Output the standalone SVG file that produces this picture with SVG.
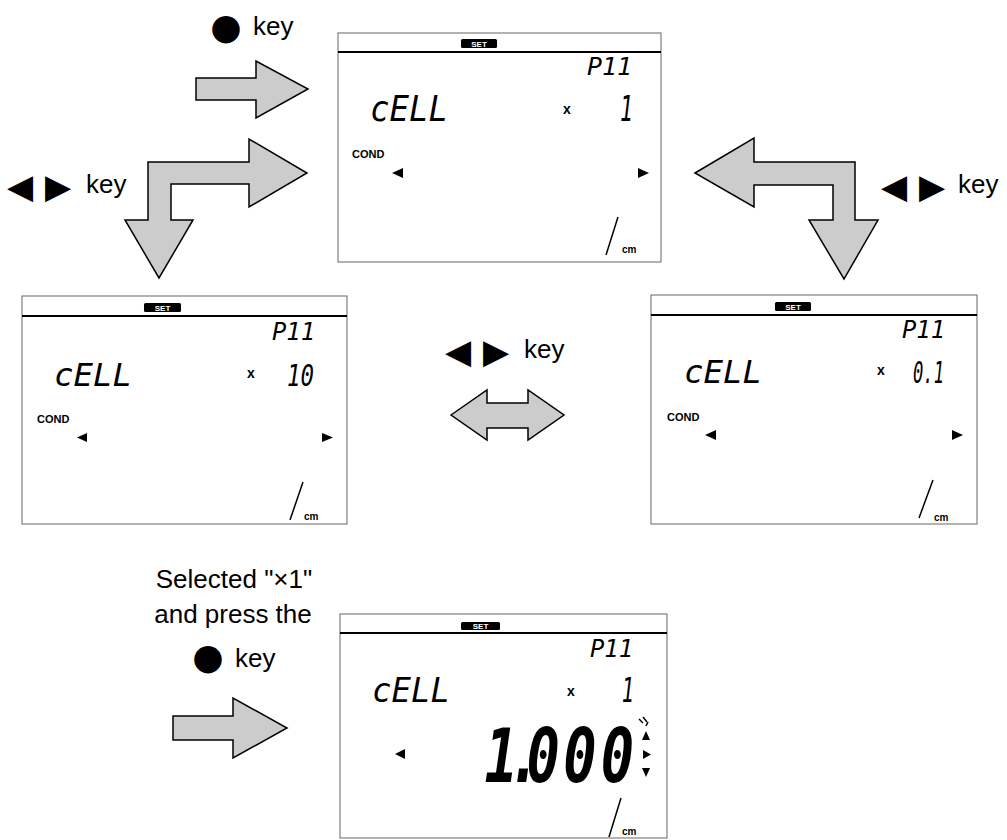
<svg xmlns="http://www.w3.org/2000/svg" width="1007" height="840" viewBox="0 0 1007 840">
<style>
.panel{fill:#fff;stroke:#666;stroke-width:1}
.hl{stroke:#000;stroke-width:2}
.setbox{fill:#000}
.settxt{fill:#fff;font-family:"Liberation Sans",Arial,sans-serif;font-weight:bold;font-size:8px;text-anchor:middle}
.seg{font-family:"DejaVu Sans Mono",monospace;font-style:oblique;fill:#000}
.big{font-family:"DejaVu Sans Mono",monospace;font-style:oblique;font-weight:bold;fill:#000}
.small{font-family:"Liberation Sans",Arial,sans-serif;font-weight:bold;fill:#000}
.tri{fill:#000}
.sl{stroke:#000;stroke-width:1.5}
.arrow{fill:#cccccc;stroke:#000;stroke-width:1.5;stroke-linejoin:miter}
.lbl{font-family:"Liberation Sans",Arial,sans-serif;font-size:26px;fill:#000}
.sym{font-family:"DejaVu Sans",sans-serif;fill:#000}
</style>
<rect width="1007" height="840" fill="#fff"/>

<g id="panel-top">
<rect class="panel" x="338" y="33" width="323" height="229"/>
<line class="hl" x1="338" y1="52" x2="661" y2="52"/>
<rect class="setbox" x="461" y="39" width="36" height="9" rx="1.5"/>
<text class="settxt" x="479" y="46.5">SET</text>
<text class="seg" x="587" y="75" font-size="25" textLength="45" lengthAdjust="spacingAndGlyphs">P11</text>
<text class="seg" x="370" y="121" font-size="36" textLength="78" lengthAdjust="spacingAndGlyphs">cELL</text>
<text class="small" x="563" y="114" font-size="14">x</text>
<text class="seg" transform="translate(633,121) scale(0.6,1)" x="0" y="0" font-size="36" text-anchor="end">1</text>
<text class="small" x="352" y="158" font-size="11">COND</text>
<polygon class="tri" points="392,173 403,168 403,178"/>
<polygon class="tri" points="649,173 638,168 638,178"/>
<line class="sl" x1="618" y1="217" x2="606" y2="255"/>
<text class="small" x="622" y="253" font-size="10">cm</text>
</g>

<g id="panel-left">
<rect class="panel" x="22" y="296" width="325" height="228"/>
<line class="hl" x1="22" y1="316" x2="347" y2="316"/>
<rect class="setbox" x="144" y="303" width="37" height="9" rx="1.5"/>
<text class="settxt" x="162.5" y="310.5">SET</text>
<text class="seg" x="272" y="340" font-size="25" textLength="43" lengthAdjust="spacingAndGlyphs">P11</text>
<text class="seg" x="54" y="386" font-size="32" textLength="78" lengthAdjust="spacingAndGlyphs">cELL</text>
<text class="small" x="247" y="378" font-size="14">x</text>
<text class="seg" x="287" y="386" font-size="30" textLength="27" lengthAdjust="spacingAndGlyphs">10</text>
<text class="small" x="37" y="423" font-size="11">COND</text>
<polygon class="tri" points="77,437.5 87,433 87,442"/>
<polygon class="tri" points="333,437.5 322,433 322,442"/>
<line class="sl" x1="303" y1="482" x2="290" y2="520"/>
<text class="small" x="304" y="520" font-size="10">cm</text>
</g>

<g id="panel-right">
<rect class="panel" x="651" y="295" width="326" height="229"/>
<line class="hl" x1="651" y1="315" x2="977" y2="315"/>
<rect class="setbox" x="775" y="302" width="36" height="9" rx="1.5"/>
<text class="settxt" x="793" y="309.5">SET</text>
<text class="seg" x="902" y="338" font-size="25" textLength="43" lengthAdjust="spacingAndGlyphs">P11</text>
<text class="seg" x="684" y="383" font-size="32" textLength="78" lengthAdjust="spacingAndGlyphs">cELL</text>
<text class="small" x="877" y="375" font-size="14">x</text>
<text class="seg" x="913" y="383" font-size="30" textLength="31" lengthAdjust="spacingAndGlyphs">0.1</text>
<text class="small" x="667" y="421" font-size="11">COND</text>
<polygon class="tri" points="705,435 716,430 716,440"/>
<polygon class="tri" points="963,435 952,430 952,440"/>
<line class="sl" x1="933" y1="480" x2="919" y2="518"/>
<text class="small" x="934" y="521" font-size="10">cm</text>
</g>

<g id="panel-bottom">
<rect class="panel" x="340" y="614" width="327" height="224"/>
<line class="hl" x1="340" y1="633" x2="667" y2="633"/>
<rect class="setbox" x="461" y="622" width="39" height="8" rx="1.5"/>
<text class="settxt" x="480.5" y="629">SET</text>
<text class="seg" x="590" y="657" font-size="25" textLength="43" lengthAdjust="spacingAndGlyphs">P11</text>
<text class="seg" x="372" y="702" font-size="34" textLength="78" lengthAdjust="spacingAndGlyphs">cELL</text>
<text class="small" x="567" y="696" font-size="14">x</text>
<text class="seg" transform="translate(634,702) scale(0.6,1)" x="0" y="0" font-size="34" text-anchor="end">1</text>
<polygon class="tri" points="395,754 405,749 405,759"/>
<text class="big" transform="translate(0,782) scale(0.75,1)" x="646 677 702 751 801" y="0" font-size="74">1.000</text>
<line class="sl" x1="639" y1="719" x2="643" y2="723" stroke-width="1.2"/>
<line class="sl" x1="643" y1="717" x2="647" y2="722" stroke-width="1.2"/>
<line class="sl" x1="648" y1="722" x2="646" y2="726" stroke-width="1.2"/>
<polygon class="tri" points="646,731 642,740 650,740"/>
<polygon class="tri" points="643,750 643,759 651,754.5"/>
<polygon class="tri" points="642,768 650,768 646,777"/>
<line class="sl" x1="621" y1="798" x2="609" y2="837"/>
<text class="small" x="622" y="835" font-size="10">cm</text>
</g>

<g id="connectors">
<polygon id="arrow-top" class="arrow" points="196,78 256,78 256,61 308,89 256,118 256,100 196,100"/>
<polygon id="arrow-left" class="arrow" points="148,162 249,162 249,139 307,173 249,207 249,184 171,184 171,220 193,220 159,278 125,220 148,220"/>
<polygon id="arrow-right" class="arrow" points="695,173 754,138 754,162 855,162 855,220 878,220 844,279 809,220 833,220 833,185 754,185 754,207"/>
<polygon id="arrow-mid" class="arrow" points="451,415 487,390 487,403 528,403 528,390 564,415 528,440 528,428 487,428 487,440"/>
<polygon id="arrow-bottom" class="arrow" points="173,716 233,716 233,698 287,728 233,758 233,740 173,740"/>
</g>

<g id="labels">
<text><tspan class="sym" x="226" y="39" font-size="36" text-anchor="middle">●</tspan><tspan class="lbl" x="253" y="35">key</tspan></text>
<text><tspan class="sym" x="7" y="198" font-size="34">◀</tspan><tspan class="sym" x="45" y="198" font-size="34">▶</tspan><tspan class="lbl" x="86" y="193">key</tspan></text>
<text><tspan class="sym" x="881" y="198" font-size="34">◀</tspan><tspan class="sym" x="919" y="198" font-size="34">▶</tspan><tspan class="lbl" x="958" y="193">key</tspan></text>
<text><tspan class="sym" x="445" y="363" font-size="34">◀</tspan><tspan class="sym" x="483" y="363" font-size="34">▶</tspan><tspan class="lbl" x="524" y="358">key</tspan></text>
<text class="lbl" x="234" y="588" text-anchor="middle">Selected "×1"</text>
<text class="lbl" x="233" y="623" text-anchor="middle">and press the</text>
<text><tspan class="sym" x="208" y="669" font-size="36" text-anchor="middle">●</tspan><tspan class="lbl" x="235" y="667">key</tspan></text>
</g>
</svg>
